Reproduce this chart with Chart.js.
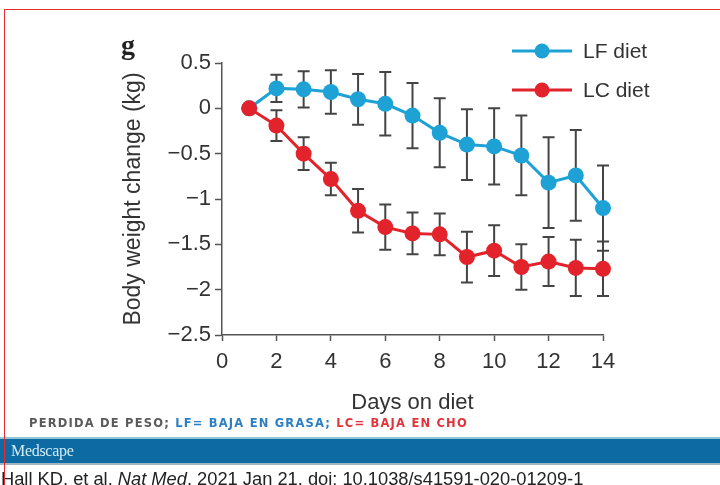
<!DOCTYPE html>
<html>
<head>
<meta charset="utf-8">
<script src="https://cdn.jsdelivr.net/npm/chart.js@4"></script>
<style>
    html, body { margin: 0; padding: 0; background: #fff; }
    body { width: 720px; height: 485px; position: relative; overflow: hidden; font-family: "Liberation Sans", Arial, sans-serif; }
    #frame { position: absolute; left: 4px; top: 9px; width: 730px; height: 490px; border-left: 1.5px solid #e52a30; border-top: 1.5px solid #e52a30; box-sizing: border-box; z-index: 5; }
    #wrap { position: absolute; left: 0; top: 0; width: 720px; height: 485px; }
    #panel { position: absolute; left: 121px; top: 31px; font-family: "Liberation Serif", serif; font-weight: bold; font-size: 28px; line-height: 28px; color: #222; }
    #caption { position: absolute; left: 29px; top: 417px; font-family: "DejaVu Sans", sans-serif; font-weight: bold; font-size: 11.5px; line-height: 13px; letter-spacing: 1.2px; color: #5a5a5a; white-space: nowrap; }
    #caption .lf { color: #2b7fc2; }
    #caption .lc { color: #e0343a; }
    #bar { position: absolute; left: 0; top: 437px; width: 720px; height: 28px; background: #0d6aa3; border-top: 2px solid #8cc6d8; border-bottom: 2px solid #9fb5bf; box-sizing: border-box; }
    #bar span { position: absolute; left: 11px; top: 3px; font-family: "Liberation Serif", serif; font-size: 16px; color: #d4edf5; letter-spacing: -0.3px; }
    #cite { position: absolute; left: 1px; top: 470px; font-size: 18.3px; line-height: 18px; color: #222; white-space: nowrap; }
</style>
</head>
<body>
<div id="wrap"><canvas id="weightChart" width="720" height="485"></canvas></div>
<div id="panel">g</div>
<div id="caption">PERDIDA DE PESO; <span class="lf">LF= BAJA EN GRASA;</span> <span class="lc">LC= BAJA EN CHO</span></div>
<div id="bar"><span>Medscape</span></div>
<div id="cite">Hall KD, et al. <i>Nat Med</i>. 2021 Jan 21. doi: 10.1038/s41591-020-01209-1</div>
<div id="frame"></div>
<script>
const days = [1, 2, 3, 4, 5, 6, 7, 8, 9, 10, 11, 12, 13, 14];
const lfValues = [0, 0.22, 0.21, 0.18, 0.10, 0.05, -0.08, -0.27, -0.40, -0.42, -0.52, -0.82, -0.74, -1.10];
const lfErrors = [0, 0.15, 0.20, 0.24, 0.28, 0.35, 0.36, 0.38, 0.39, 0.42, 0.44, 0.50, 0.50, 0.47];
const lcValues = [0, -0.19, -0.50, -0.78, -1.13, -1.31, -1.38, -1.39, -1.64, -1.57, -1.75, -1.69, -1.76, -1.77];
const lcErrors = [0, 0.17, 0.18, 0.18, 0.24, 0.25, 0.23, 0.23, 0.28, 0.28, 0.25, 0.27, 0.31, 0.30];
const yTicks = [0.5, 0, -0.5, -1, -1.5, -2, -2.5];
const xTicks = [0, 2, 4, 6, 8, 10, 12, 14];

const blue = '#1ea2d6';
const red = '#e3232b';
const font = '"Liberation Sans", Arial, sans-serif';

function toPoints(values) {
    return days.map((d, i) => ({ x: d, y: values[i] }));
}

// error bars drawn behind the lines, from each dataset's errors array
const errorBars = {
    id: 'errorBars',
    beforeDatasetsDraw(chart) {
        const ctx = chart.ctx;
        const xs = chart.scales.x;
        const ys = chart.scales.y;
        ctx.save();
        ctx.strokeStyle = '#444';
        ctx.lineWidth = 2;
        chart.data.datasets.forEach(ds => {
            ds.data.forEach((p, i) => {
                const err = ds.errors[i];
                if (!err) return;
                const x = xs.getPixelForValue(p.x);
                const top = ys.getPixelForValue(p.y + err);
                const bottom = ys.getPixelForValue(p.y - err);
                ctx.beginPath();
                ctx.moveTo(x, top);
                ctx.lineTo(x, bottom);
                ctx.moveTo(x - 6, top);
                ctx.lineTo(x + 6, top);
                ctx.moveTo(x - 6, bottom);
                ctx.lineTo(x + 6, bottom);
                ctx.stroke();
            });
        });
        ctx.restore();
    }
};

// legend with a line and a marker, top right
const lineLegend = {
    id: 'lineLegend',
    afterDraw(chart) {
        const ctx = chart.ctx;
        const rows = [
            { ds: chart.data.datasets[1], y: 51 },
            { ds: chart.data.datasets[0], y: 90 }
        ];
        ctx.save();
        rows.forEach(r => {
            ctx.strokeStyle = r.ds.borderColor;
            ctx.lineWidth = 3;
            ctx.beginPath();
            ctx.moveTo(512, r.y);
            ctx.lineTo(572, r.y);
            ctx.stroke();
            ctx.fillStyle = r.ds.borderColor;
            ctx.beginPath();
            ctx.arc(542, r.y, 7.5, 0, Math.PI * 2);
            ctx.fill();
            ctx.fillStyle = '#333';
            ctx.font = '21px ' + font;
            ctx.textBaseline = 'middle';
            ctx.fillText(r.ds.label, 583, r.y + 1);
        });
        ctx.restore();
    }
};

const ctx = document.getElementById('weightChart').getContext('2d');
new Chart(ctx, {
    type: 'line',
    data: {
        datasets: [{
            label: 'LC diet',
            data: toPoints(lcValues),
            errors: lcErrors,
            borderColor: red,
            backgroundColor: red,
            borderWidth: 3,
            pointRadius: 8,
            pointBorderWidth: 0,
            clip: false,
            order: 0
        }, {
            label: 'LF diet',
            data: toPoints(lfValues),
            errors: lfErrors,
            borderColor: blue,
            backgroundColor: blue,
            borderWidth: 3,
            pointRadius: 8,
            pointBorderWidth: 0,
            clip: false,
            order: 1
        }]
    },
    options: {
        responsive: false,
        animation: false,
        layout: {
            padding: { left: 116, top: 63, right: 117, bottom: 65 }
        },
        plugins: {
            legend: { display: false },
            tooltip: { enabled: false }
        },
        scales: {
            x: {
                type: 'linear',
                min: 0,
                max: 14,
                afterBuildTicks: scale => { scale.ticks = xTicks.map(v => ({ value: v })); },
                afterFit: scale => { scale.height = 85; },
                grid: { drawOnChartArea: false, tickLength: 6, color: '#555', tickWidth: 1.5 },
                border: { color: '#555', width: 1.5 },
                ticks: {
                    padding: 8,
                    color: '#333',
                    font: { family: font, size: 22 }
                },
                title: {
                    display: true,
                    text: 'Days on diet',
                    color: '#333',
                    font: { family: font, size: 22 }
                }
            },
            y: {
                min: -2.5,
                max: 0.5,
                afterBuildTicks: scale => { scale.ticks = yTicks.map(v => ({ value: v })); },
                afterFit: scale => { scale.width = 106; },
                grid: { drawOnChartArea: false, tickLength: 7, color: '#555', tickWidth: 1.5 },
                border: { color: '#555', width: 1.5 },
                ticks: {
                    padding: 4,
                    color: '#333',
                    font: { family: font, size: 22 },
                    callback: value => value < 0 ? '\u2212' + Math.abs(value) : String(value)
                },
                title: {
                    display: true,
                    text: 'Body weight change (kg)',
                    color: '#333',
                    font: { family: font, size: 23 }
                }
            }
        }
    },
    plugins: [errorBars, lineLegend]
});
</script>
</body>
</html>
